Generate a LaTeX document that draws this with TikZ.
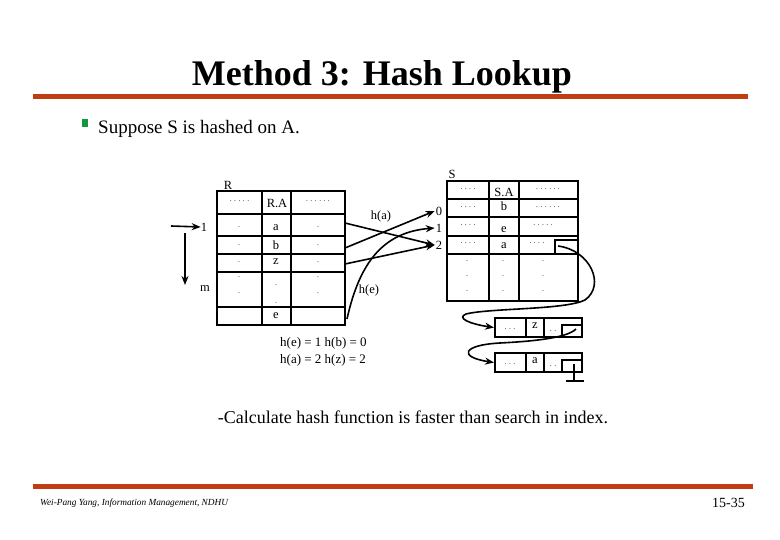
\documentclass[tikz,border=0pt]{standalone}
\usepackage{fontspec}
\setmainfont{Liberation Serif}
\usetikzlibrary{arrows.meta}
\definecolor{rulered}{RGB}{192,60,18}
\definecolor{bulletgreen}{RGB}{20,150,60}
\begin{document}
\begin{tikzpicture}[x=1pt,y=-1pt,
  tbl/.style={line width=2pt},
  thinbox/.style={line width=1.6pt},
  lbl/.style={inner sep=0pt, font=\fontsize{12.5}{13}\selectfont},
  idx/.style={inner sep=1pt, font=\fontsize{12.5}{13}\selectfont},
  dts/.style={inner sep=0pt, font=\fontsize{7.5}{8}\selectfont},
  conn/.style={line width=1.6pt, -{Stealth[length=9pt,width=7pt]}},
  cell/.style={draw, line width=2pt, minimum width=87pt, minimum height=19pt, inner sep=0pt},
  ]
\useasboundingbox[fill=white] (0,0) rectangle (780,540);

% title and rules
\node[anchor=base, inner sep=0pt, font=\fontsize{36}{36}\selectfont\bfseries] (title) at (382,86) {Method 3: Hash Lookup};
\fill[rulered] (33,94) rectangle (748,99);
\fill[bulletgreen] (82,119) rectangle (88,127);
\node[anchor=base west, inner sep=0pt, font=\fontsize{19}{20}\selectfont] (sub) at (98,134) {Suppose S is hashed on A.};

% ---------------- R table ----------------
\draw[tbl] (217,191) rectangle (345,325);
\foreach \yy in {214,236,254,272,307} \draw[tbl] (217,\yy) -- (345,\yy);
\draw[tbl] (262,191) -- (262,325);
\draw[tbl] (291,191) -- (291,325);
\node[lbl] (Rlab) at (228,185) {R};
\node[dts] (Rh1) at (239.5,201) {. . . . .};
\node[lbl] (RA) at (277,203) {R.A};
\node[dts] (Rh3) at (318,201) {. . . . . .};
\node[lbl] (Ra) at (276,228) {a};
\node[lbl] (Rb) at (276,245) {b};
\node[lbl] (Rz) at (276,262) {z};
\node[lbl] (Re) at (276,316) {e};
\foreach \yy [count=\i] in {227,245,262,277,293} {
  \node[dts] (Rd1\i) at (239,\yy) {.};
  \node[dts] (Rd3\i) at (318,\yy) {.};
}
\node[dts] (Rc1) at (276,285) {.};
\node[dts] (Rc2) at (276,303) {.};

% row range arrows
\node[lbl] (one) at (204,227) {1};
\node[lbl] (mm) at (205,289) {m};
\coordinate (l1s) at (171,226);
\draw[conn] (l1s) -- (one.west);
\coordinate (vs) at (185,233);
\coordinate (ve) at (185,285);
\draw[conn] (vs) -- (ve);

% ---------------- S table ----------------
\draw[tbl] (447,181) rectangle (578,301);
\foreach \yy in {199,217,236,254} \draw[tbl] (447,\yy) -- (578,\yy);
\draw[tbl] (489,181) -- (489,301);
\draw[tbl] (519,181) -- (519,301);
\draw[thinbox] (555,254) -- (555,240) -- (578,240);
\node[lbl] (Slab) at (452,174) {S};
\node[dts] (Sh1) at (468,189) {. . . .};
\node[lbl] (SA) at (504,192.5) {S.A};
\node[dts] (Sh3) at (548,189) {. . . . . .};
\node[dts] (S01) at (468,207) {. . . .};
\node[lbl] (Sb) at (504,206) {b};
\node[dts] (S03) at (548,207) {. . . . . .};
\node[dts] (S11) at (468,225) {. . . .};
\node[lbl] (Se) at (504,230) {e};
\node[dts] (S13) at (543,225) {. . . . .};
\node[dts] (S21) at (468,243) {. . . .};
\node[lbl] (Sa) at (504,246) {a};
\node[dts] (S23) at (537,243) {. . . .};
\foreach \yy [count=\i] in {261,276,291} {
  \node[dts] (Sx1\i) at (467,\yy) {.};
  \node[dts] (Sx2\i) at (503,\yy) {.};
  \node[dts] (Sx3\i) at (543,\yy) {.};
}
\node[idx] (i0) at (439,211) {0};
\node[idx] (i1) at (439,228) {1};
\node[idx] (i2) at (439,245) {2};

% hash arrows
\coordinate (ra) at (345,223);
\coordinate (rb) at (345,248);
\coordinate (rz) at (345,264);
\coordinate (re) at (347,319);
\draw[conn] (ra) -- (i2.west);
\draw[conn] (rb) -- (i0.west);
\draw[conn] (rz) -- (i2.west);
\draw[conn] (re) .. controls (360,260) and (385,232) .. (i1.west);
\node[lbl] (ha) at (381,216) {h(a)};
\node[lbl] (he) at (369,290) {h(e)};

% ---------------- overflow chain ----------------
\node[cell] (L1) at (538.5,327.5) {};
\draw[tbl] (526,318) -- (526,337);
\draw[tbl] (544,318) -- (544,337);
\draw[thinbox] (562,337) -- (562,325) -- (582,325);
\node[dts] (L1a) at (510,329) {. . .};
\node[lbl] (L1b) at (535,326) {z};
\node[dts] (L1c) at (553,331) {. .};

\node[cell] (L2) at (538.5,362.5) {};
\draw[tbl] (526,353) -- (526,372);
\draw[tbl] (544,353) -- (544,372);
\draw[thinbox] (562,372) -- (562,360) -- (582,360);
\node[dts] (L2a) at (510,364) {. . .};
\node[lbl] (L2b) at (535,361) {a};
\node[dts] (L2c) at (553,366) {. .};

\coordinate (sa) at (558,246);
\draw[conn] (sa) .. controls (590,250) and (606,285) .. (585,300)
  .. controls (565,310) and (490,308) .. (466,314)
  .. controls (456,318) and (470,324) .. (L1.west);
\coordinate (zb) at (576,329);
\draw[conn] (zb) .. controls (568,337) and (540,341) .. (500,343)
  .. controls (462,345) and (458,357) .. (L2.west);
\coordinate (gt) at (574,364);
\coordinate (gb) at (574,381);
\draw[thinbox] (gt) -- (gb);
\draw[thinbox] (566,381) -- (584,381);

% hash values
\node[anchor=west, inner sep=0pt, font=\fontsize{13}{14}\selectfont] (hv1) at (280,343) {h(e) = 1 h(b) = 0};
\node[anchor=west, inner sep=0pt, font=\fontsize{13}{14}\selectfont] (hv2) at (280,360) {h(a) = 2 h(z) = 2};

\node[inner sep=0pt, font=\fontsize{18}{19}\selectfont] (calc) at (413,417) {-Calculate hash function is faster than search in index.};

% footer
\fill[rulered] (33,484) rectangle (753,489);
\node[anchor=west, inner sep=0pt, font=\fontsize{9.3}{10}\selectfont\itshape] (foot) at (40,503) {Wei-Pang Yang, Information Management, NDHU};
\node[anchor=east, inner sep=0pt, font=\fontsize{14}{15}\selectfont] (page) at (745,503) {15-35};
\end{tikzpicture}
\end{document}
